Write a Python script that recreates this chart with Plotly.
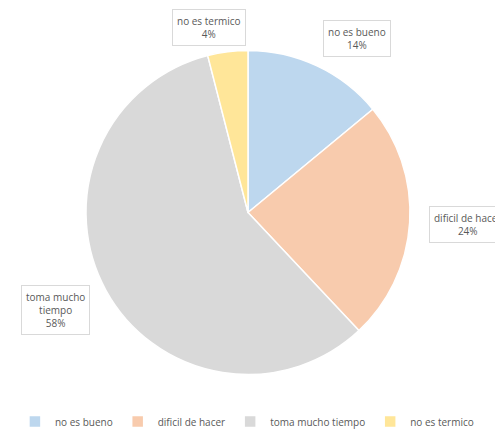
import plotly.graph_objects as go

categories = ["no es bueno", "dificil de hacer", "toma mucho tiempo", "no es termico"]
values = [14, 24, 58, 4]
label_texts = ["no es bueno<br>14%", "dificil de hacer<br>24%", "toma mucho<br>tiempo<br>58%", "no es termico<br>4%"]
colors = ["#BDD7EE", "#F8CBAD", "#D9D9D9", "#FFE699"]
# label box centres (px, figure coordinates)
label_x = [349, 459, 47, 201]
label_y = [31, 216, 302, 19]

W, H = 503, 440
cx_px, cy_px, r_px = 240, 204.5, 162
FONT = "Open Sans"

fig = go.Figure(go.Pie(
    labels=categories, values=values, sort=False, direction="clockwise", rotation=0,
    marker=dict(colors=colors, line=dict(color="white", width=1.5)),
    textinfo="none", hoverinfo="label+percent",
    domain=dict(x=[(cx_px - r_px) / W, (cx_px + r_px) / W],
                y=[1 - (cy_px + r_px) / H, 1 - (cy_px - r_px) / H]),
))

anns = []
for t, x, y in zip(label_texts, label_x, label_y):
    anns.append(dict(x=x / W, y=1 - y / H, xref="paper", yref="paper", text=t,
                     xanchor="center", yanchor="middle",
                     showarrow=False, font=dict(size=10, color="#595959", family=FONT),
                     bgcolor="white", bordercolor="#D9D9D9", borderwidth=1, borderpad=4))

fig.update_layout(
    width=W, height=H, margin=dict(l=0, r=0, t=0, b=0),
    paper_bgcolor="white", plot_bgcolor="white",
    annotations=anns,
    showlegend=True,
    legend=dict(orientation="h", x=0.475, xanchor="center", y=0.06, yanchor="middle",
                font=dict(size=10, color="#595959", family=FONT),
                itemwidth=30, traceorder="normal"),
)
fig.write_html("out.html")
